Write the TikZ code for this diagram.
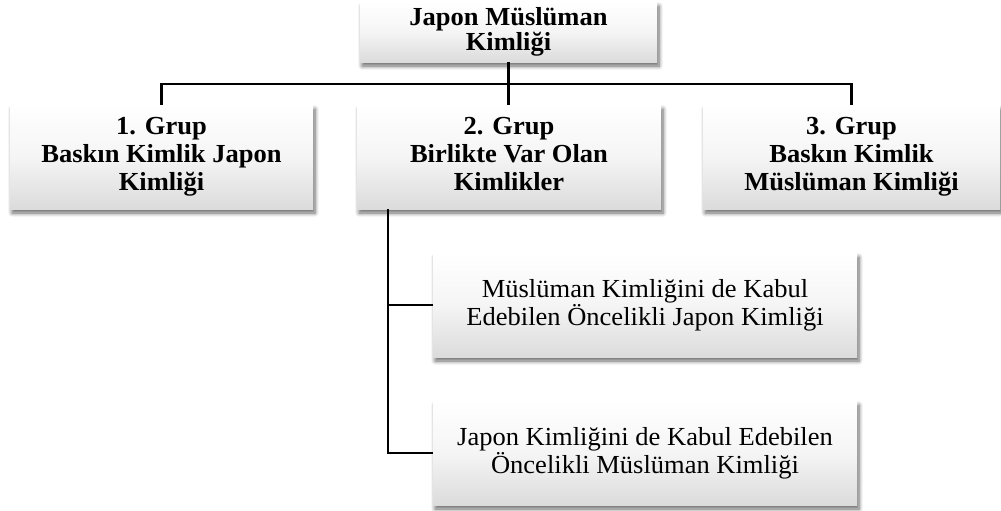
\documentclass[tikz,border=0pt]{standalone}
\usepackage{fontspec}
\setmainfont[FakeStretch=1.02]{Liberation Serif}
\usetikzlibrary{shadows.blur}
\tikzset{
  box/.style={draw=none, rectangle, top color=white, bottom color=black!14, middle color=white!96!black,
    align=center, inner sep=0pt,
    blur shadow={shadow xshift=1.5pt, shadow yshift=-3pt, shadow blur steps=6, shadow opacity=60, shadow blur radius=3pt}},
  topbox/.style={box, minimum width=297*0.75pt, minimum height=60*0.75pt, font=\bfseries\fontsize{19.5}{19}\selectfont},
  grpbox/.style={box, minimum height=104*0.75pt, font=\bfseries\fontsize{19.5}{21}\selectfont},
  subbox/.style={box, minimum width=424*0.75pt, minimum height=104*0.75pt, font=\fontsize{19.5}{21}\selectfont},
  conn/.style={draw=black, line width=2pt}
}
\begin{document}
\begin{tikzpicture}[x=0.75pt, y=-0.75pt]
\useasboundingbox (0,0) rectangle (1001,511);
\node[topbox] (top) at (508.5,32) {Japon Müslüman\\Kimliği};
\node[grpbox, minimum width=303*0.75pt] (g1) at (161.5,157) {1. Grup\\Baskın Kimlik Japon\\Kimliği};
\node[grpbox, minimum width=304*0.75pt] (g2) at (509,157) {2. Grup\\Birlikte Var Olan\\Kimlikler\vphantom{ğ}};
\node[grpbox, minimum width=297*0.75pt] (g3) at (851.5,157) {3. Grup\\Baskın Kimlik\\Müslüman Kimliği};
\node[subbox] (ga) at (645,305) {Müslüman Kimliğini de Kabul\\Edebilen Öncelikli Japon Kimliği};
\node[subbox] (gb) at (645,453) {Japon Kimliğini de Kabul Edebilen\\Öncelikli Müslüman Kimliği};
\coordinate (hy) at (0,84);
\coordinate (vx) at (388,0);
\coordinate (vtop) at (vx |- g2.south);
\coordinate (va) at (vx |- ga.west);
\draw[conn] (top.south) -- (top.south |- g2.north);
\draw[conn] (g1.north) -- (g1.north |- hy) -- (g3.north |- hy) -- (g3.north);
\draw[conn] (vtop) |- (gb.west);
\draw[conn] (va) -- (ga.west);
\end{tikzpicture}
\end{document}
